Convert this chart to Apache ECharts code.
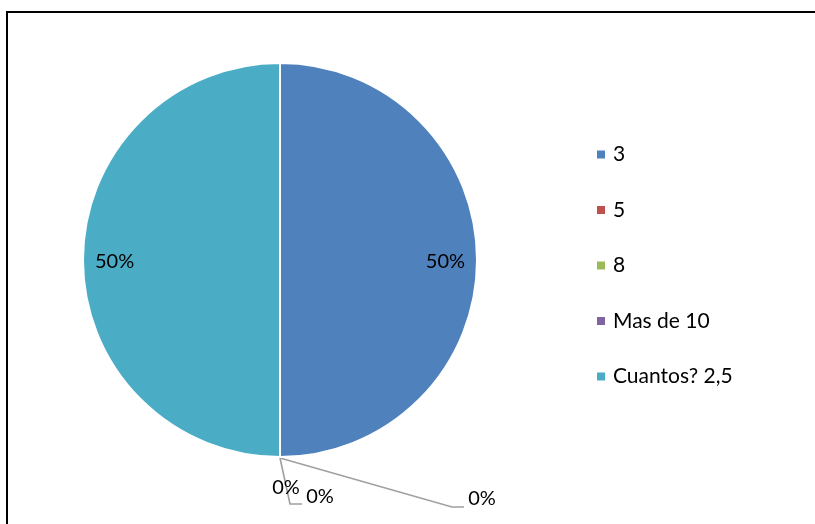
<!DOCTYPE html>
<html>
<head>
<meta charset="utf-8">
<style>
  html, body { margin: 0; padding: 0; background: #fff; }
  #chart { width: 815px; height: 524px; }
</style>
<script src="https://cdn.jsdelivr.net/npm/echarts@6/dist/echarts.min.js"></script>
</head>
<body>
<div id="chart"></div>
<script>
// Answer categories and their counts
const categories = ['3', '5', '8', 'Mas de 10', 'Cuantos? 2,5'];
const counts = [1, 0, 0, 0, 1];
const palette = ['#4F81BD', '#C0504D', '#9BBB59', '#8064A2', '#4BACC6'];

// Pie geometry (pixels)
const CX = 280, CY = 260, R = 197;
const FONT = 'Lato, "Open Sans", sans-serif';

// Placement of the stacked "0%" labels below the pie, as offsets from the bottom of the circle
const zeroLabelSpots = {
  1: { dx: 6, dy: 31, line: null },
  2: { dx: 40, dy: 40, line: [[0, 1], [10, 47], [22, 47]] },
  3: { dx: 202, dy: 42, line: [[0, 1], [172, 50], [184, 50]] }
};

const chart = echarts.init(document.getElementById('chart'), null, { renderer: 'canvas' });

const data = categories.map((name, i) => {
  const item = { name: name, value: counts[i], itemStyle: { color: palette[i] } };
  if (counts[i] > 0) {
    item.label = { position: 'inside' };
  } else if (zeroLabelSpots[i] && !zeroLabelSpots[i].line) {
    item.labelLine = { show: false };
  }
  return item;
});

chart.setOption({
  animation: false,
  backgroundColor: '#fff',
  graphic: [{
    type: 'rect',
    shape: { x: 7, y: 12, width: 830, height: 540 },
    style: { fill: 'none', stroke: '#000', lineWidth: 2 },
    silent: true
  }],
  legend: {
    orient: 'vertical',
    left: 597,
    top: 144,
    padding: 0,
    icon: 'rect',
    itemWidth: 8,
    itemHeight: 8,
    itemGap: 34.5,
    selectedMode: false,
    itemStyle: { borderWidth: 0 },
    data: categories,
    textStyle: { fontFamily: FONT, fontSize: 21, color: '#000', padding: [0, 0, 0, 3] }
  },
  series: [{
    type: 'pie',
    center: [CX, CY],
    radius: R,
    startAngle: 90,
    clockwise: true,
    avoidLabelOverlap: false,
    emphasis: { disabled: true },
    itemStyle: { borderColor: '#fff', borderWidth: 2 },
    label: {
      show: true,
      position: 'outside',
      formatter: '{d}%',
      fontFamily: FONT,
      fontSize: 20,
      color: '#000'
    },
    labelLine: { show: true, lineStyle: { color: '#A0A0A0', width: 1.6 } },
    labelLayout: function (p) {
      const i = p.dataIndex;
      const lr = p.labelRect;
      if (counts[i] > 0) {
        // push the inside label out toward the rim
        const mx = lr.x + lr.width / 2, my = lr.y + lr.height / 2;
        const k = 1.63;
        return {
          x: CX + (mx - CX) * k,
          y: CY + (my - CY) * k + 2,
          align: 'center',
          verticalAlign: 'middle'
        };
      }
      const spot = zeroLabelSpots[i];
      const bx = CX, by = CY + R;
      const out = {
        x: bx + spot.dx,
        y: by + spot.dy,
        align: 'center',
        verticalAlign: 'middle'
      };
      if (spot.line) {
        out.labelLinePoints = spot.line.map(pt => [bx + pt[0], by + pt[1]]);
      }
      return out;
    },
    data: data
  }]
});
</script>
</body>
</html>
